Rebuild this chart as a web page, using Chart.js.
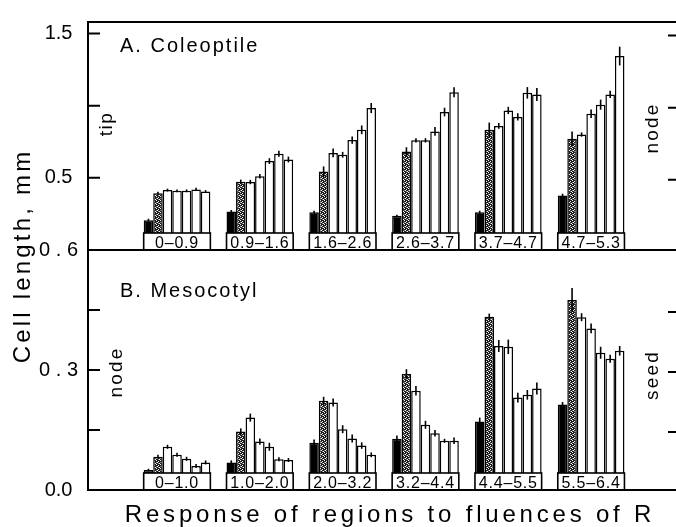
<!DOCTYPE html>
<html>
<head>
<meta charset="utf-8">
<script src="https://cdn.jsdelivr.net/npm/chart.js@4.4.1/dist/chart.umd.min.js"></script>
<style>
  body { margin: 0; background: #fff; }
  #wrap { position: relative; width: 676px; height: 527px; }
  #wrap canvas { position: absolute; left: 0; top: 0; }
</style>
</head>
<body>
<div id="wrap">
  <canvas id="ChartColeoptile" width="676" height="527"></canvas>
  <canvas id="ChartMesocotyl" width="676" height="527"></canvas>
</div>
<script>
// group positions on the x axis and the fluence ranges printed in the boxes
const groups = [1, 2, 3, 4, 5, 6];
const rangesA = ['0–0.9', '0.9–1.6', '1.6–2.6', '2.6–3.7', '3.7–4.7', '4.7–5.3'];
const rangesB = ['0–1.0', '1.0–2.0', '2.0–3.2', '3.2–4.4', '4.4–5.5', '5.5–6.4'];

// rows: dark bar, stippled bar, then the five open bars (per group)
const coleoptile = [
    [0.207, 0.267, 0.262, 0.238, 0.262, 0.378],
    [0.393, 0.473, 0.544, 0.682, 0.833, 0.771],
    [0.415, 0.471, 0.673, 0.760, 0.860, 0.800],
    [0.410, 0.511, 0.660, 0.760, 0.967, 0.944],
    [0.410, 0.616, 0.762, 0.822, 0.922, 1.007],
    [0.420, 0.667, 0.833, 0.956, 1.089, 1.078],
    [0.405, 0.627, 0.984, 1.093, 1.078, 1.344]
];
const coleoptileErr = [
    [0.010, 0.010, 0.010, 0.006, 0.010, 0.012],
    [0.010, 0.015, 0.035, 0.030, 0.050, 0.050],
    [0.010, 0.015, 0.030, 0.015, 0.020, 0.015],
    [0.010, 0.015, 0.020, 0.015, 0.025, 0.030],
    [0.010, 0.020, 0.025, 0.030, 0.025, 0.035],
    [0.012, 0.020, 0.030, 0.030, 0.040, 0.025],
    [0.010, 0.020, 0.035, 0.035, 0.045, 0.065]
];
const mesocotyl = [
    [0.050, 0.069, 0.118, 0.128, 0.171, 0.214],
    [0.083, 0.146, 0.223, 0.290, 0.433, 0.475],
    [0.108, 0.181, 0.219, 0.248, 0.360, 0.432],
    [0.088, 0.121, 0.152, 0.163, 0.358, 0.404],
    [0.078, 0.108, 0.129, 0.142, 0.231, 0.343],
    [0.060, 0.077, 0.111, 0.123, 0.238, 0.328],
    [0.069, 0.075, 0.088, 0.123, 0.254, 0.348]
];
const mesocotylErr = [
    [0.003, 0.005, 0.008, 0.008, 0.010, 0.006],
    [0.005, 0.008, 0.010, 0.012, 0.008, 0.030],
    [0.005, 0.010, 0.010, 0.012, 0.015, 0.010],
    [0.005, 0.008, 0.010, 0.010, 0.018, 0.012],
    [0.005, 0.010, 0.010, 0.008, 0.012, 0.015],
    [0.005, 0.005, 0.008, 0.005, 0.012, 0.010],
    [0.005, 0.005, 0.006, 0.008, 0.015, 0.012]
];

// tick marks and labels
const ticksA = [0.5, 1.0, 1.5];
const labelsA = { '0.5': '0.5 ', '1.5': '1.5 ' };
const ticksB = [0.15, 0.3, 0.45];
const labelsB = { '0': '0.0 ', '0.3': '0 . 3', '0.6': '0 . 6' };

const FONT = "'Liberation Sans', Arial, sans-serif";

const stipple = () => {
    const c = document.createElement('canvas');
    c.width = 4; c.height = 4;
    const g = c.getContext('2d');
    g.fillStyle = '#1c1c1c';
    g.fillRect(0, 0, 4, 4);
    g.fillStyle = '#f4f4f4';
    [[0, 0], [2, 1], [1, 2], [3, 3]].forEach(p => g.fillRect(p[0], p[1], 1, 1));
    g.fillStyle = '#888';
    [[2, 3], [0, 2]].forEach(p => g.fillRect(p[0], p[1], 1, 1));
    return g.createPattern(c, 'repeat');
};
const pattern = stipple();

const text = (ctx, str, x, y, size, spacing, rotate, align) => {
    ctx.save();
    ctx.font = `${size}px ${FONT}`;
    ctx.letterSpacing = spacing + 'px';
    ctx.fillStyle = '#000';
    ctx.textAlign = align || 'center';
    ctx.textBaseline = 'alphabetic';
    ctx.translate(x, y);
    if (rotate) ctx.rotate(-Math.PI / 2);
    ctx.fillText(str, 0, 0);
    ctx.restore();
};

const decor = {
    id: 'decor',
    afterDatasetsDraw(chart, args, o) {
        const { ctx, chartArea: a, scales: { y } } = chart;
        ctx.save();
        ctx.strokeStyle = '#000';

        // error bars
        ctx.lineWidth = 1.6;
        o.errs.forEach((row, d) => {
            chart.getDatasetMeta(d).data.forEach((bar, i) => {
                const v = o.vals[d][i];
                ctx.beginPath();
                ctx.moveTo(bar.x, y.getPixelForValue(v + row[i]));
                ctx.lineTo(bar.x, y.getPixelForValue(v - row[i]));
                ctx.stroke();
            });
        });

        // range boxes
        const first = chart.getDatasetMeta(0).data;
        const last = chart.getDatasetMeta(o.vals.length - 1).data;
        o.ranges.forEach((r, i) => {
            const x0 = first[i].x - first[i].width / 2;
            const x1 = last[i].x + last[i].width / 2;
            const h = 17;
            ctx.fillStyle = '#fff';
            ctx.fillRect(x0, a.bottom - h, x1 - x0, h);
            ctx.lineWidth = 1.6;
            ctx.strokeRect(x0, a.bottom - h, x1 - x0, h);
            text(ctx, r, (x0 + x1) / 2, a.bottom - 2.5, 16, 0.8);
        });

        // frame and inward ticks
        ctx.lineWidth = 2;
        ctx.beginPath();
        ctx.moveTo(a.left, a.top);
        ctx.lineTo(a.left, a.bottom);
        ctx.moveTo(a.left - 1, a.bottom);
        ctx.lineTo(a.right, a.bottom);
        if (o.topLine) {
            ctx.moveTo(a.left - 1, a.top);
            ctx.lineTo(a.right, a.top);
        }
        o.ticks.forEach(t => {
            const py = y.getPixelForValue(t);
            ctx.moveTo(a.left, py);
            ctx.lineTo(a.left + 12, py);
            ctx.moveTo(a.right - 8, py + 2);
            ctx.lineTo(a.right, py + 2);
        });
        ctx.stroke();

        o.notes.forEach(n => text(ctx, ...n));
        ctx.restore();
    }
};

const makeChart = (id, vals, errs, ranges, cfg) => {
    const canvas = document.getElementById(id);
    const datasets = vals.map((row, d) => ({
        data: groups.map((g, i) => ({ x: g, y: row[i] })),
        backgroundColor: d === 0 ? '#000' : d === 1 ? pattern : '#fff',
        borderColor: '#000',
        borderWidth: 1.5,
        categoryPercentage: 0.805,
        barPercentage: 1.0
    }));
    return new Chart(canvas.getContext('2d'), {
        type: 'bar',
        data: { datasets: datasets },
        options: {
            responsive: false,
            animation: false,
            layout: { padding: cfg.padding },
            plugins: {
                legend: { display: false },
                tooltip: { enabled: false },
                decor: { vals: vals, errs: errs, ranges: ranges, ticks: cfg.ticks, topLine: cfg.topLine, notes: cfg.notes }
            },
            scales: {
                x: { type: 'linear', offset: false, min: -0.075, max: 7.025, display: false },
                y: {
                    min: 0,
                    max: cfg.max,
                    grid: { display: false, drawTicks: false },
                    border: { display: false },
                    afterFit: s => { s.width = 88; },
                    ticks: {
                        stepSize: cfg.step,
                        includeBounds: false,
                        padding: 10,
                        color: '#000',
                        font: { family: FONT, size: 20 },
                        callback: v => cfg.labels[String(Math.round(v * 100) / 100)] || ''
                    }
                }
            }
        },
        plugins: [decor]
    });
};

makeChart('ChartColeoptile', coleoptile, coleoptileErr, rangesA, {
    padding: { top: 13, bottom: 277, left: 0, right: 0 },
    max: 1.58, step: 0.5, ticks: ticksA, labels: labelsA, topLine: true,
    notes: [
        ['A. Coleoptile', 120, 52, 20, 2, false, 'left'],
        ['tip', 112, 124, 19, 1.5, true],
        ['node', 658, 128, 19, 2.2, true]
    ]
});

makeChart('ChartMesocotyl', mesocotyl, mesocotylErr, rangesB, {
    padding: { top: 250, bottom: 37, left: 0, right: 0 },
    max: 0.6, step: 0.15, ticks: ticksB, labels: labelsB, topLine: false,
    notes: [
        ['B. Mesocotyl', 120, 297, 20, 2, false, 'left'],
        ['node', 122, 372, 19, 2.2, true],
        ['seed', 658, 375, 19, 2.2, true],
        ['Cell length, mm', 30, 256, 24, 3.2, true],
        ['Response of regions to fluences of R', 390, 522, 24, 3.8, false]
    ]
});
</script>
</body>
</html>
